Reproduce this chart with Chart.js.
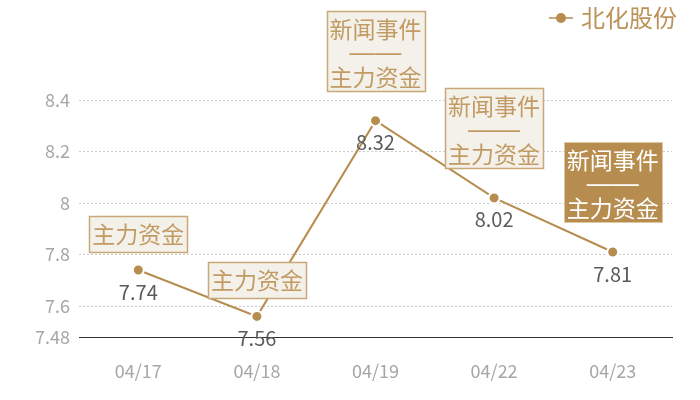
<!DOCTYPE html>
<html>
<head>
<meta charset="utf-8">
<script src="https://cdn.jsdelivr.net/npm/chart.js@4.4.1/dist/chart.umd.min.js"></script>
<style>
  html, body { margin: 0; padding: 0; background: #fff; }
</style>
</head>
<body>
<canvas id="myChart" width="700" height="400"></canvas>
<script>
const dates = ['04/17', '04/18', '04/19', '04/22', '04/23'];
const prices = [7.74, 7.56, 8.32, 8.02, 7.81];
const eventTags = [
  ['主力资金'],
  ['主力资金'],
  ['新闻事件', '——', '主力资金'],
  ['新闻事件', '——', '主力资金'],
  ['新闻事件', '——', '主力资金']
];
const highlighted = [false, false, false, false, true];
const yTicks = [7.48, 7.6, 7.8, 8, 8.2, 8.4];
const seriesName = '北化股份';

const gold = '#b68d4f';
const fontFamily = "'Noto Sans CJK SC', 'Noto Sans', sans-serif";

// legend marker: short line with a dot on it
const legendIcon = document.createElement('canvas');
legendIcon.width = 24;
legendIcon.height = 12;
(function () {
  const c = legendIcon.getContext('2d');
  c.strokeStyle = gold;
  c.lineWidth = 1.5;
  c.beginPath();
  c.moveTo(0, 6);
  c.lineTo(24, 6);
  c.stroke();
  c.fillStyle = gold;
  c.beginPath();
  c.arc(12, 6, 5, 0, Math.PI * 2);
  c.fill();
})();

// value labels under the points and the event boxes above them
const tagPlugin = {
  id: 'tags',
  afterLayout(chart) {
    // push the legend a bit further right, like the original
    chart.legend.left += 9;
    chart.legend.right += 9;
  },
  afterDatasetsDraw(chart) {
    const ctx = chart.ctx;
    const pts = chart.getDatasetMeta(0).data;
    ctx.save();
    ctx.textAlign = 'center';
    ctx.textBaseline = 'middle';
    pts.forEach((pt, i) => {
      ctx.font = '20px ' + fontFamily;
      ctx.fillStyle = '#5b5b5b';
      ctx.fillText(String(prices[i]), pt.x, pt.y + 22);

      const lines = eventTags[i];
      ctx.font = '23px ' + fontFamily;
      const w = Math.max(...lines.map(t => ctx.measureText(t).width)) + 6;
      const h = 22 * lines.length + 14;
      const gap = lines.length > 1 ? 30 : 18;
      const top = Math.round(pt.y - gap - h) + 0.5;
      const left = Math.round(pt.x - w / 2) + 0.5;
      const dark = highlighted[i];
      ctx.fillStyle = dark ? gold : '#f4f0ea';
      ctx.fillRect(left, top, w, h);
      ctx.strokeStyle = dark ? '#dcc8a4' : '#c9a877';
      ctx.lineWidth = dark ? 1 : 1.5;
      ctx.strokeRect(left, top, w, h);
      ctx.fillStyle = dark ? '#ffffff' : '#c19b63';
      lines.forEach((t, k) => {
        // the dash row needs a font whose dashes join up
        ctx.font = (t.startsWith('—') ? "26px 'Liberation Sans'" : '23px ' + fontFamily);
        ctx.fillText(t, pt.x, top + 18 + 24 * k);
      });
    });
    ctx.restore();
  }
};

new Chart(document.getElementById('myChart').getContext('2d'), {
  type: 'line',
  data: {
    labels: dates,
    datasets: [{
      label: seriesName,
      data: prices,
      borderColor: gold,
      borderWidth: 2,
      pointRadius: 5.5,
      pointBorderWidth: 2,
      pointBorderColor: '#ffffff',
      pointBackgroundColor: gold,
      tension: 0
    }]
  },
  options: {
    responsive: false,
    animation: false,
    events: [],
    layout: { padding: { top: 2, right: 28, left: 0, bottom: 0 } },
    plugins: {
      tooltip: { enabled: false },
      legend: {
        position: 'top',
        align: 'end',
        labels: {
          usePointStyle: true,
          pointStyleWidth: 16,
          padding: 4,
          color: '#bb9258',
          font: { size: 24, family: fontFamily },
          generateLabels: () => [{
            text: seriesName,
            pointStyle: legendIcon,
            fillStyle: gold,
            strokeStyle: gold,
            fontColor: '#bb9258',
            lineWidth: 0,
            hidden: false,
            datasetIndex: 0
          }]
        }
      }
    },
    scales: {
      x: {
        offset: true,
        grid: { display: false, drawTicks: false },
        border: { display: true, color: '#333333', width: 1 },
        ticks: {
          padding: 23,
          color: '#a6a6a6',
          font: { size: 18, family: fontFamily }
        },
        afterFit: scale => { scale.height = 63; }
      },
      y: {
        min: 7.48,
        max: 8.633,
        afterBuildTicks: scale => { scale.ticks = yTicks.map(v => ({ value: v })); },
        afterFit: scale => { scale.width = 79; },
        grid: { color: '#cccccc', drawTicks: false, lineWidth: 1 },
        border: { display: false, dash: [2, 2] },
        ticks: {
          padding: 9,
          color: '#a6a6a6',
          font: { size: 18, family: fontFamily },
          callback: value => String(value)
        }
      }
    }
  },
  plugins: [tagPlugin]
});
</script>
</body>
</html>
